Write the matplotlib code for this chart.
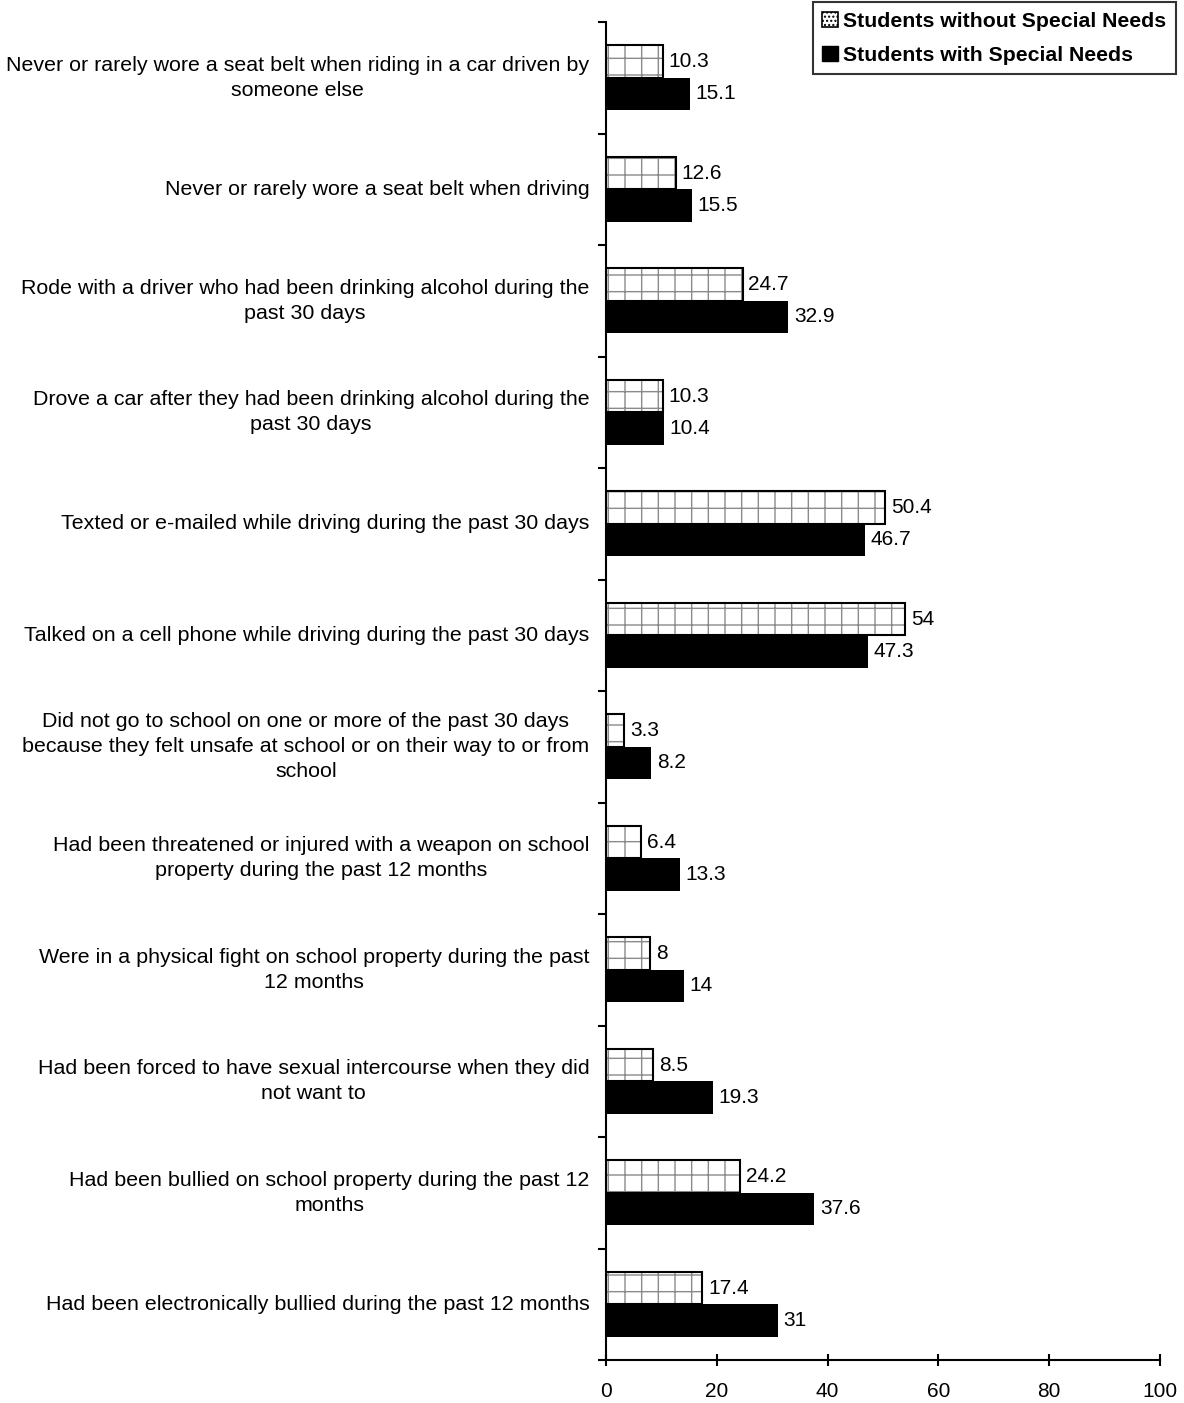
import matplotlib
matplotlib.use("Agg")
import matplotlib.pyplot as plt
from matplotlib.patches import Patch
import numpy as np

plt.rcParams["font.family"] = ["Liberation Sans", "DejaVu Sans"]
plt.rcParams["hatch.linewidth"] = 1.0

categories = [
    "Never or rarely wore a seat belt when riding in a car driven by\nsomeone else",
    "Never or rarely wore a seat belt when driving",
    "Rode with a driver who had been drinking alcohol during the\npast 30 days",
    "Drove a car after they had been drinking alcohol during the\npast 30 days",
    "Texted or e-mailed while driving during the past 30 days",
    "Talked on a cell phone while driving during the past 30 days",
    "Did not go to school on one or more of the past 30 days\nbecause they felt unsafe at school or on their way to or from\nschool",
    "Had been threatened or injured with a weapon on school\nproperty during the past 12 months",
    "Were in a physical fight on school property during the past\n12 months",
    "Had been forced to have sexual intercourse when they did\nnot want to",
    "Had been bullied on school property during the past 12\nmonths",
    "Had been electronically bullied during the past 12 months",
]
without_sn = [10.3, 12.6, 24.7, 10.3, 50.4, 54, 3.3, 6.4, 8, 8.5, 24.2, 17.4]
with_sn = [15.1, 15.5, 32.9, 10.4, 46.7, 47.3, 8.2, 13.3, 14, 19.3, 37.6, 31]
series_names = ["Students without Special Needs", "Students with Special Needs"]

fig = plt.figure(figsize=(11.84, 14.03), dpi=100)
ax = fig.add_axes([606 / 1184, 1 - 1360 / 1403, (1160 - 606) / 1184, (1360 - 22) / 1403])

y = np.arange(len(categories))
h = 0.29
# dotted-looking grid fill (grey hatch) and a black outline on top
ax.barh(y - h / 2, without_sn, height=h, color="white", edgecolor="#8a8a8a",
        linewidth=0, hatch="+")
b1 = ax.barh(y - h / 2, without_sn, height=h, color="none", edgecolor="black",
             linewidth=1.5)
b2 = ax.barh(y + h / 2, with_sn, height=h, color="black", edgecolor="black",
             linewidth=0)

for bars, vals in ((b1, without_sn), (b2, with_sn)):
    for bar, v in zip(bars, vals):
        ax.annotate(f"{v:g}", (bar.get_width(), bar.get_y() + bar.get_height() / 2),
                    xytext=(4, 0), textcoords="offset points",
                    ha="left", va="center", fontsize=15)

ax.set_ylim(len(categories) - 0.5, -0.5)
ax.set_xlim(0, 100)
ax.set_yticks(y)
ax.set_yticklabels(categories, fontsize=15.4, multialignment="center", linespacing=1.4)
for lab in ax.get_yticklabels():
    lab.set_va("center")
ax.set_yticks(np.arange(len(categories) + 1) - 0.5, minor=True)
ax.tick_params(axis="y", which="major", length=0, pad=12)
ax.tick_params(axis="y", which="minor", length=6, width=1.5, direction="out")
ax.set_xticks([0, 20, 40, 60, 80, 100])
ax.tick_params(axis="x", length=8, width=1.5, direction="inout", labelsize=15, pad=12)

for s in ("top", "right"):
    ax.spines[s].set_visible(False)
for s in ("left", "bottom"):
    ax.spines[s].set_linewidth(1.5)

handles = [Patch(facecolor="white", edgecolor="black", linewidth=1.2, hatch="...."),
           Patch(facecolor="black", edgecolor="black")]
leg = fig.legend(handles, series_names, loc="upper right",
                 bbox_to_anchor=(1176 / 1184, 1 - 2 / 1403),
                 prop={"weight": "bold", "size": 15.3}, frameon=True, fancybox=False,
                 edgecolor="black", handlelength=0.75, handleheight=0.75,
                 handletextpad=0.25, borderpad=0.45, labelspacing=0.7, borderaxespad=0)
leg.get_frame().set_linewidth(1.5)

fig.savefig("out.png", dpi=100)
